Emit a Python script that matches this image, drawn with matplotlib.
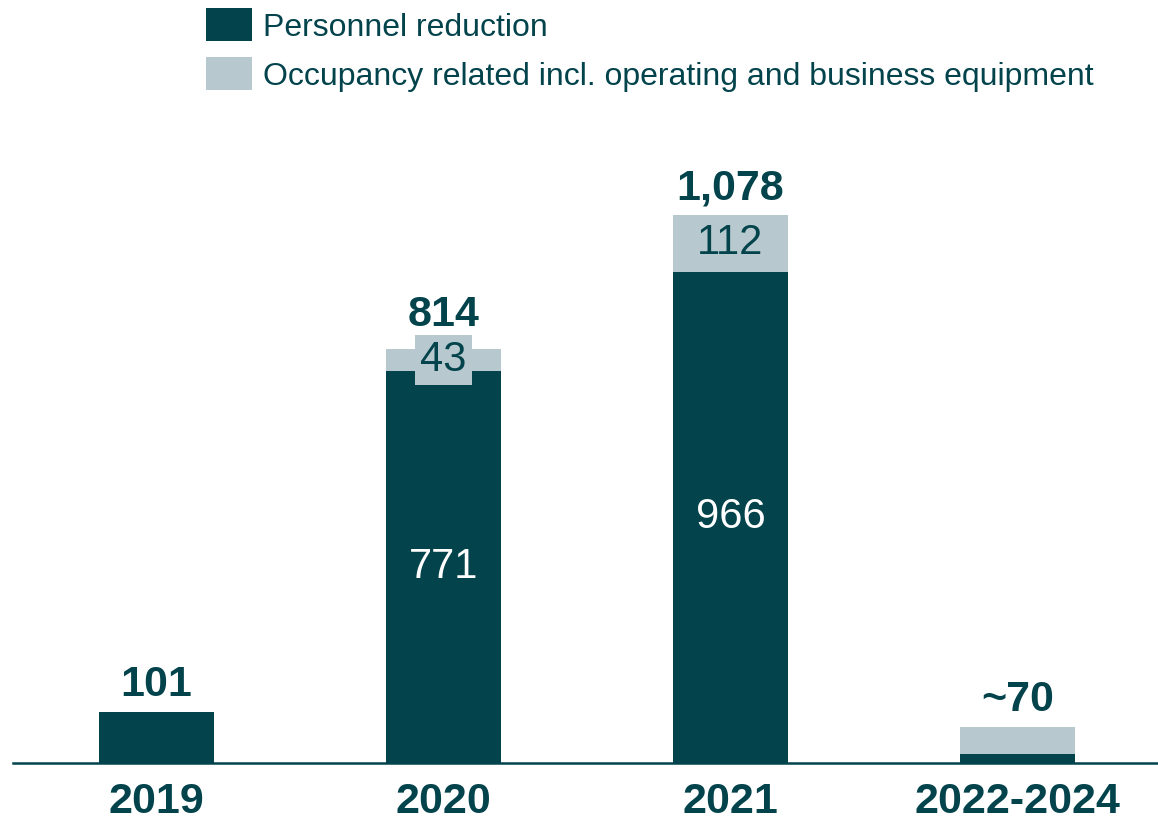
import matplotlib.pyplot as plt
from matplotlib.patches import Rectangle

# restructuring costs, EUR m
periods = ["2019", "2020", "2021", "2022-2024"]
personnel = [101, 771, 966, 18]
occupancy = [0, 43, 112, 52]
totals = ["101", "814", "1,078", "~70"]
show_parts = [False, True, True, False]

legend_labels = [
    "Personnel reduction",
    "Occupancy related incl. operating and business equipment",
]

DARK = "#03434c"
LIGHT = "#b7c9ce"

plt.rcParams["font.family"] = ["Liberation Sans", "DejaVu Sans"]

fig = plt.figure(figsize=(11.58, 8.24), dpi=100)
ax = fig.add_axes([0.0112, 0.074, 0.9914, 0.802])

x = list(range(len(periods)))
width = 0.4
ax.bar(x, personnel, width=width, color=DARK, linewidth=0)
ax.bar(x, occupancy, width=width, bottom=personnel, color=LIGHT, linewidth=0)

for i in x:
    top = personnel[i] + occupancy[i]
    small = show_parts[i] and occupancy[i] < 60
    if show_parts[i]:
        ax.text(i, personnel[i] / 2, str(personnel[i]), ha="center", va="center",
                fontsize=30, color="white")
        ax.text(i, personnel[i] + occupancy[i] / 2, str(occupancy[i]),
                ha="center", va="center", fontsize=30, color=DARK,
                bbox=dict(boxstyle="square,pad=0.12", fc=LIGHT, ec="none")
                if small else None)
    lift = 10 if small else 5
    ax.annotate(totals[i], (i, top), xytext=(0, lift), textcoords="offset points",
                ha="center", va="bottom", fontsize=31, fontweight="bold", color=DARK)

ax.set_xlim(-0.5, 3.5)
ax.set_ylim(0, 1300)
ax.set_xticks(x)
ax.set_xticklabels(periods, fontsize=31, fontweight="bold", color=DARK)
ax.tick_params(axis="x", length=0, pad=14)
ax.set_yticks([])
for side in ["top", "left", "right"]:
    ax.spines[side].set_visible(False)
ax.spines["bottom"].set_color(DARK)
ax.spines["bottom"].set_linewidth(1.8)

# legend drawn by hand in figure pixels
W, H = 1158, 824
for k, (lab, col) in enumerate(zip(legend_labels, [DARK, LIGHT])):
    y0 = 8 + k * 49
    fig.add_artist(Rectangle((206 / W, 1 - (y0 + 33) / H), 46 / W, 33 / H,
                             transform=fig.transFigure, color=col, lw=0))
    fig.text(263 / W, 1 - (y0 + 20) / H, lab, fontsize=23, color=DARK,
             ha="left", va="center")

fig.savefig("out.png", dpi=100)
